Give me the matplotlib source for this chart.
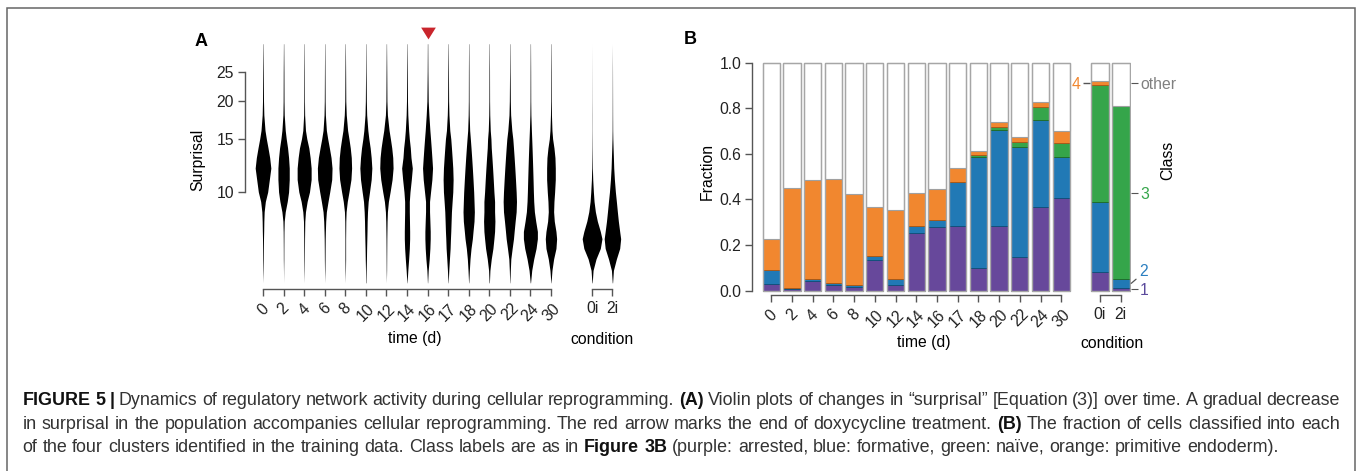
import numpy as np
import matplotlib
matplotlib.use("Agg")
import matplotlib.pyplot as plt
from matplotlib.patches import Rectangle
from matplotlib.ticker import NullLocator

plt.rcParams['font.family'] = ['Liberation Sans', 'DejaVu Sans']

W, H = 1358, 471

# ---------------- panel A : surprisal violins ----------------
# violin half-widths (relative units) at these surprisal levels
surprisal_levels = [5.0, 5.5, 6.0, 6.5, 7.0, 7.4, 8.0, 8.6, 9.3, 10, 11, 12, 13, 14, 15, 16, 18, 20, 25, 31]
time_labels = ['0', '2', '4', '6', '8', '10', '12', '14', '16', '17', '18', '20', '22', '24', '30']
condition_labels = ['0i', '2i']

width_d0 = [0, 0.6, 1, 1.2, 1.5, 2, 2.5, 3.5, 7, 14, 19, 23.5, 20, 15, 10, 6, 2.5, 1.5, 1, 0.4]
width_d2 = [0, 0.3, 0.7, 0.8, 1, 1.2, 2, 5, 11, 15, 17, 17, 15, 12, 8, 5, 2, 1.3, 1, 0.4]
width_d4 = [0, 0.5, 0.8, 1, 1.2, 1.5, 2, 4, 9, 16, 21, 21, 18, 14, 8, 4, 1.5, 1, 0.8, 0.4]
width_d6 = [0, 0.6, 1, 1.2, 1.5, 2, 3, 5, 10, 15, 21, 22, 19, 14, 9, 5, 2, 1.2, 0.8, 0.4]
width_d8 = [0, 0.6, 1, 1, 1, 1.2, 1.5, 2.5, 6, 11, 17, 19, 18, 15, 11, 7, 3, 1.5, 1, 0.4]
width_d10 = [0.5, 1, 1.8, 2.3, 3, 3.5, 4, 5, 7, 11, 16, 18, 16, 13, 9, 6, 2.5, 1.5, 0.8, 0.4]
width_d12 = [0, 0.6, 0.8, 1, 1.2, 1.5, 2, 3, 6, 11, 17, 20, 19, 16, 12, 8, 3, 1.5, 1, 0.4]
width_d14 = [0.3, 2.5, 5, 7, 8, 8, 7.5, 7, 7, 9, 13, 16, 12, 10, 7, 5, 2.5, 1.5, 1, 0.4]
width_d16 = [0.3, 2, 5, 7, 8, 8, 7, 6, 6, 9, 13, 15, 13, 11, 9, 7, 4, 2, 1, 0.5]
width_d17 = [0.3, 2, 4, 6, 7, 8, 9, 10, 12, 14, 15, 14, 12, 10, 8, 5, 2.5, 1.5, 1, 0.4]
width_d18 = [0.3, 2, 4, 7, 11, 13, 16, 17, 16, 15, 13, 11, 9, 7, 5, 3, 1.5, 1, 0.8, 0.4]
width_d20 = [0.5, 2, 6, 11, 14, 16, 17, 16, 16, 14, 12, 10, 8, 6, 5, 3, 1.5, 1, 0.8, 0.4]
width_d22 = [0.3, 1.5, 3, 7, 11, 13, 16, 19, 20, 19, 17, 15, 13, 11, 9, 6, 2.5, 1.5, 0.8, 0.4]
width_d24 = [0.5, 4, 10, 17, 21, 21, 16, 12, 10, 9, 8, 7, 6, 5, 4, 3, 1.5, 1, 0.8, 0.4]
width_d30 = [0.3, 3, 8, 15, 17, 15, 10, 8, 9, 11, 13, 13, 12, 9, 5, 3, 1.5, 1, 0.8, 0.4]
width_0i = [0.5, 3, 12, 25, 30, 25, 16, 10, 6, 4, 2, 1, 0.7, 0.5, 0.4, 0.3, 0.3, 0.2, 0.1, 0]
width_2i = [0.5, 3, 12, 22, 25, 22, 18, 15, 12, 9, 6, 4, 3, 2, 1.2, 0.8, 0.6, 0.5, 0.3, 0]

time_widths = [width_d0, width_d2, width_d4, width_d6, width_d8, width_d10, width_d12,
               width_d14, width_d16, width_d17, width_d18, width_d20, width_d22,
               width_d24, width_d30]
condition_widths = [width_0i, width_2i]
dox_end_index = 8  # day 16

# ---------------- panel B : class fractions ----------------
purple_time = [0.028, 0.007, 0.042, 0.025, 0.018, 0.134, 0.025, 0.251, 0.278, 0.282, 0.098, 0.282, 0.149, 0.367, 0.405]
blue_time = [0.063, 0.003, 0.008, 0.007, 0.005, 0.017, 0.026, 0.031, 0.033, 0.193, 0.488, 0.424, 0.481, 0.382, 0.181]
green_time = [0, 0, 0, 0, 0, 0, 0, 0, 0, 0, 0.008, 0.010, 0.022, 0.055, 0.060]
orange_time = [0.136, 0.442, 0.435, 0.456, 0.400, 0.216, 0.304, 0.146, 0.136, 0.063, 0.020, 0.025, 0.023, 0.023, 0.053]

purple_cond = [0.080, 0.013]
blue_cond = [0.310, 0.038]
green_cond = [0.511, 0.759]
orange_cond = [0.020, 0.0]

class_colors = ['#67489b', '#2179b5', '#35a54a', '#f1872f']
class_edges = ['#3e2a66', '#14507c', '#1f6e2f', '#a85a1a']
axis_col = '#555555'
fs = 11.3

fig = plt.figure(figsize=(W / 100, H / 100), dpi=100)


def axes_px(l, t, r, b):
    return fig.add_axes([l / W, 1 - b / H, (r - l) / W, (b - t) / H])


def fig_text(x, y, s, **kw):
    return fig.text(x / W, 1 - y / H, s, **kw)


def style_axis(ax):
    for side in ['top', 'right']:
        ax.spines[side].set_visible(False)
    for side in ['left', 'bottom']:
        ax.spines[side].set_color(axis_col)
        ax.spines[side].set_linewidth(1.0)
    ax.tick_params(length=5, width=1.0, color=axis_col, labelsize=fs, pad=2.5,
                   labelcolor='#222222')
    ax.set_facecolor('none')


# ---- A ----
px_unit_a = 20.57
ylim_a = (4.77, 31.9)
axA = axes_px(244.5, 40, 563.3, 289)
axAc = axes_px(581.9, 40, 622.6, 289)

for ax, widths, labels in [(axA, time_widths, time_labels), (axAc, condition_widths, condition_labels)]:
    lev = np.array(surprisal_levels)
    for i, w in enumerate(widths):
        hw = np.array(w) / 3.0 / px_unit_a
        ax.fill_betweenx(lev, i - hw, i + hw, color='black', lw=0)
    ax.set_yscale('log')
    ax.set_ylim(*ylim_a)
    ax.yaxis.set_minor_locator(NullLocator())
    style_axis(ax)
    ax.spines['bottom'].set_bounds(0, len(widths) - 1)
    ax.set_xticks(range(len(labels)))
    if ax is axA:
        ax.set_xlim(-0.9, 14.6)
        ax.set_xticklabels(labels, rotation=45, ha='center')
    else:
        ax.set_xlim(-0.5, 1.5)
        ax.set_xticklabels(labels)
    ax.tick_params(axis='x', pad=3.5)

axA.spines['left'].set_bounds(10, 25)
axA.set_yticks([10, 15, 20, 25])
axA.set_yticklabels(['10', '15', '20', '25'])
axAc.spines['left'].set_visible(False)
axAc.tick_params(axis='y', left=False, labelleft=False)

# red arrow: end of doxycycline treatment
axA.plot([dox_end_index], [1.027], transform=axA.get_xaxis_transform(), clip_on=False,
         marker=[(-1, 0.8), (1, 0.8), (0, -0.8)], ms=10.6, color='#c9252c', mew=0)

fig_text(201, 41, 'A', fontsize=13, fontweight='bold', ha='center', va='center')
fig_text(198, 160, 'Surprisal', fontsize=fs, rotation=90, ha='center', va='center')
fig_text(415, 339, 'time (d)', fontsize=fs, ha='center', va='center')
fig_text(602, 339, 'condition', fontsize=fs, ha='center', va='center')

# ---- B ----
ylim_b = (-0.019, 1.005)
axB = axes_px(751.7, 61.56, 1071.6, 295.0)
axBc = axes_px(1089.6, 61.56, 1131.2, 295.0)


def stacked(ax, parts, bw):
    n = len(parts[0])
    x = np.arange(n)
    cum = np.zeros(n)
    for vals, col, ecol in zip(parts, class_colors, class_edges):
        v = np.array(vals)
        ax.bar(x, v, bw, bottom=cum, color=col,
               edgecolor=[ecol if h > 0 else 'none' for h in v], lw=0.7)
        cum += v
    ax.bar(x, 1 - cum, bw, bottom=cum, color='white', edgecolor='#a0a0a0', lw=0.8)
    ax.bar(x, np.ones(n), bw, fill=False, edgecolor='#a6a6a6', lw=1.0)
    ax.set_ylim(*ylim_b)
    style_axis(ax)
    ax.spines['bottom'].set_bounds(0, n - 1)
    ax.set_xticks(x)


stacked(axB, [purple_time, blue_time, green_time, orange_time], 0.835)
axB.set_xlim(-0.946, 14.5)
axB.set_xticklabels(time_labels, rotation=45, ha='center')
axB.spines['left'].set_bounds(0, 1)
axB.set_yticks(np.arange(0, 1.01, 0.2))
axB.set_yticklabels(['%.1f' % v for v in np.arange(0, 1.01, 0.2)])
axB.tick_params(axis='x', pad=3.5)

stacked(axBc, [purple_cond, blue_cond, green_cond, orange_cond], 0.865)
axBc.set_xlim(-0.5, 1.5)
axBc.set_xticklabels(condition_labels)
axBc.tick_params(axis='x', pad=3.5)
axBc.spines['left'].set_visible(False)

# class labels beside the condition bars
pos_other = purple_cond[0] + blue_cond[0] + green_cond[0] + orange_cond[0] / 2
pos_three = 0.43
pos_one = purple_cond[1] / 2
axBc.set_yticks([pos_other])
axBc.set_yticklabels(['4'])
axBc.tick_params(axis='y', length=5, color=axis_col, pad=1.5)
axBc.get_yticklabels()[0].set_color(class_colors[3])

axR = axBc.twinx()
axR.set_ylim(*ylim_b)
for side in axR.spines:
    axR.spines[side].set_visible(False)
axR.set_yticks([pos_other, pos_three, pos_one])
axR.set_yticklabels(['other', '3', '1'])
axR.tick_params(axis='y', length=5, color=axis_col, labelsize=fs, pad=1.5)
for t, c in zip(axR.get_yticklabels(), ['#808080', class_colors[2], '#5b4a9c']):
    t.set_color(c)
axBc.annotate('2', xy=(1.0, purple_cond[1] + blue_cond[1] / 2),
              xycoords=('axes fraction', 'data'), xytext=(5.5, 8.5),
              textcoords='offset points', ha='left', va='center', fontsize=fs,
              color='#2b7fc0',
              arrowprops=dict(arrowstyle='-', color=axis_col, lw=0.9,
                              shrinkA=0, shrinkB=0, relpos=(0, 0.15)))

fig_text(690, 39, 'B', fontsize=13, fontweight='bold', ha='center', va='center')
fig_text(707.5, 171.5, 'Fraction', fontsize=fs, rotation=90, ha='center', va='center')
fig_text(924, 343, 'time (d)', fontsize=fs, ha='center', va='center')
fig_text(1112, 343, 'condition', fontsize=fs, ha='center', va='center')
fig_text(1168, 160, 'Class', fontsize=fs, rotation=90, ha='center', va='center')

# ---- caption (first two lines justified) ----
cap_lines = [
    [('FIGURE 5 |', True), ('Dynamics of regulatory network activity during cellular reprogramming.', False),
     ('(A)', True), ('Violin plots of changes in \u201csurprisal\u201d [Equation (3)] over time. A gradual decrease', False)],
    [('in surprisal in the population accompanies cellular reprogramming. The red arrow marks the end of doxycycline treatment.', False),
     ('(B)', True), ('The fraction of cells classified into each', False)],
    [('of the four clusters identified in the training data. Class labels are as in', False),
     ('Figure 3B', True), ('(purple: arrested, blue: formative, green: na\u00efve, orange: primitive endoderm).', False)],
]
cap_justify = [True, True, False]
cap_size = 12.85
cap_left, cap_right = 22.5, 1340
renderer = fig.canvas.get_renderer()


def advance(s, bold):
    kw = dict(fontsize=cap_size, fontweight='bold' if bold else 'normal')
    a = fig.text(0, 0, '|' + s + '|', **kw)
    b = fig.text(0, 0, '||', **kw)
    w = a.get_window_extent(renderer).width - b.get_window_extent(renderer).width
    a.remove()
    b.remove()
    return w


space_w = advance(' ', False)
for row, base, just in zip(cap_lines, [405, 429, 452], cap_justify):
    words = [(w, bold) for s, bold in row for w in s.split(' ')]
    widths = [advance(w, b) for w, b in words]
    gap = space_w
    if just:
        gap = (cap_right - cap_left - sum(widths)) / (len(words) - 1)
    x = cap_left
    for (w, bold), ww in zip(words, widths):
        fig_text(x, base, w, fontsize=cap_size, fontweight='bold' if bold else 'normal',
                 va='baseline', ha='left', color='#111111' if bold else '#333333')
        x += ww + gap

# frame around the figure
fig.add_artist(Rectangle((7 / W, -0.05), (1355 - 7) / W, 1.05 - 8 / H, transform=fig.transFigure,
                         fill=False, edgecolor='#666666', lw=1.1))

fig.savefig('out.png', dpi=100)
